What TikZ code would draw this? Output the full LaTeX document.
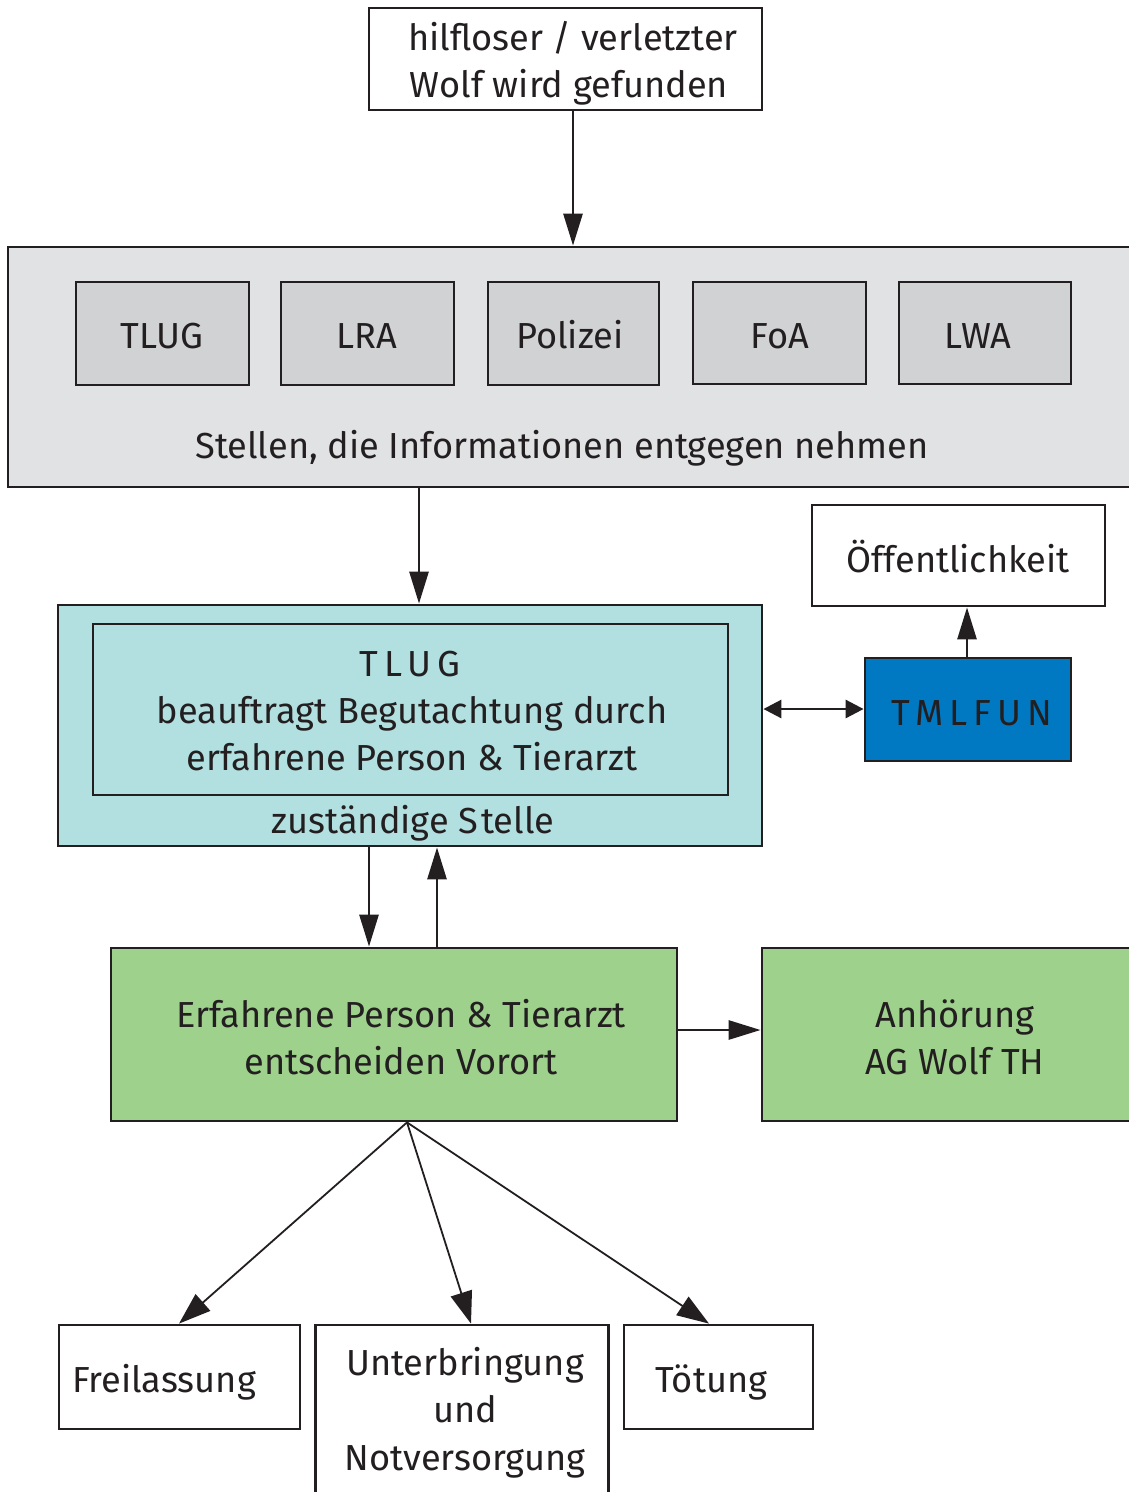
\documentclass[tikz,border=0pt]{standalone}
\usepackage{fontspec}
\setmainfont{Fira Sans}
\usetikzlibrary{arrows.meta}
\definecolor{txt}{HTML}{231F20}
\definecolor{graybg}{HTML}{E1E2E4}
\definecolor{graybox}{HTML}{D1D2D4}
\definecolor{tealbg}{HTML}{B2DFE0}
\definecolor{bluebg}{HTML}{0079C2}
\definecolor{greenbg}{HTML}{9ED28C}
\tikzset{
  box/.style={draw=txt, line width=2.8pt, inner sep=0pt},
  txtn/.style={anchor=base, inner sep=0pt, text=txt, font=\fontsize{36.2}{44}\selectfont},
  txtw/.style={txtn, anchor=base west},
  arr/.style={draw=txt, line width=2.8pt, -{Triangle[length=32pt,width=19pt]}},
  darr/.style={draw=txt, line width=2.8pt, {Triangle[length=18pt,width=18pt]}-{Triangle[length=18pt,width=18pt]}},
  thinarr/.style={draw=txt, line width=1.8pt, -{Triangle[length=32pt,width=22pt]}},
  spaced/.style={font=\fontsize{36.2}{44}\selectfont\addfontfeatures{LetterSpace=17}}
}
\begin{document}
\begin{tikzpicture}[x=1pt,y=-1pt]
\useasboundingbox (0,0) rectangle (1129,1492);
\clip (0,0) rectangle (1129,1492);

% top box
\node[box, minimum width=393, minimum height=102] (find) at (565.5,59) {};
\node[txtn] (find1) at (573,50) {hilfloser / verletzter};
\node[txtn] (find2) at (569,97) {Wolf wird gefunden};

% Stellen container
\node[box, fill=graybg, minimum width=1140, minimum height=240] (stellen) at (578,367) {};
\node[box, fill=graybox, minimum width=173, minimum height=103] (b1) at (162.5,333.5) {};
\node[box, fill=graybox, minimum width=173, minimum height=103] (b2) at (367.5,333.5) {};
\node[box, fill=graybox, minimum width=171, minimum height=103] (b3) at (573.5,333.5) {};
\node[box, fill=graybox, minimum width=173, minimum height=102] (b4) at (779.5,333) {};
\node[box, fill=graybox, minimum width=172, minimum height=102] (b5) at (985,333) {};
\node[txtn] (t1) at (162,348) {TLUG};
\node[txtn] (t2) at (367,348) {LRA};
\node[txtn] (t3) at (570,348) {Polizei};
\node[txtn] (t4) at (780,348) {FoA};
\node[txtn] (t5) at (978,348) {LWA};
\node[txtn] (stellenlbl) at (562,458) {Stellen, die Informationen entgegen nehmen};

% TLUG zuständige Stelle
\node[box, fill=tealbg, minimum width=704, minimum height=241] (teal) at (410,725.5) {};
\node[box, minimum width=635, minimum height=171] (tealin) at (410.5,709.5) {};
\node[txtn, spaced] (tl1) at (410,676) {TLUG};
\node[txtn] (tl2) at (412,723) {beauftragt Begutachtung durch};
\node[txtn] (tl3) at (412,770) {erfahrene Person \& Tierarzt};
\node[txtn] (tl4) at (413,833) {zuständige S\kern3pt telle};

% Öffentlichkeit and TMLFUN
\node[box, fill=white, minimum width=293, minimum height=101] (oeff) at (958.5,555.5) {};
\node[txtn] (oefftxt) at (958,572) {Öffentlichkeit};
\node[box, fill=bluebg, minimum width=206, minimum height=103] (tmlfun) at (968,709.5) {};
\node[txtn, spaced] (tmltxt) at (972,725) {TMLFUN};

% green boxes
\node[box, fill=greenbg, minimum width=566, minimum height=173] (green) at (394,1034.5) {};
\node[txtn] (g1) at (401,1027) {Erfahrene Person \& Tierarzt};
\node[txtn] (g2) at (401,1074) {entscheiden Vorort};
\node[box, fill=greenbg, minimum width=378, minimum height=173] (anh) at (951,1034.5) {};
\node[txtn] (a1) at (955,1027) {Anhörung};
\node[txtn] (a2) at (955,1074) {AG Wolf TH};

% outcomes
\node[box, minimum width=241, minimum height=104] (frei) at (179.5,1377) {};
\node[txtw] (freitxt) at (72,1392) {Freilassung};
\node[box, minimum width=292.5, minimum height=175] (unter) at (462,1412.5) {};
\node[txtn] (u1) at (465,1375) {Unterbringung};
\node[txtn] (u2) at (465,1422) {und};
\node[txtn] (u3) at (465,1470) {Notversorgung};
\node[box, minimum width=189, minimum height=104] (toet) at (718.5,1377) {};
\node[txtw] (toettxt) at (655,1392) {Tötung};

% connectors
\draw[arr] (find.south -| 573,0) -- (stellen.north -| 573,0);
\draw[arr] (stellen.south -| 419,0) -- (teal.north -| 419,0);
\draw[darr] (teal.east |- 0,709) -- (tmlfun.west |- 0,709);
\draw[arr] (tmlfun.north -| 967,0) -- (oeff.south -| 967,0);
\draw[arr] (teal.south -| 369,0) -- (green.north -| 369,0);
\draw[arr] (green.north -| 437,0) -- (teal.south -| 437,0);
\draw[arr] (green.east |- 0,1030) -- (anh.west |- 0,1030);
\coordinate (apex) at (green.south -| 407,0);
\draw[thinarr] (apex) -- (frei.north -| 179,0);
\draw[thinarr] (apex) -- (unter.north -| 471,0);
\draw[thinarr] (apex) -- (toet.north -| 709,0);
\end{tikzpicture}
\end{document}
